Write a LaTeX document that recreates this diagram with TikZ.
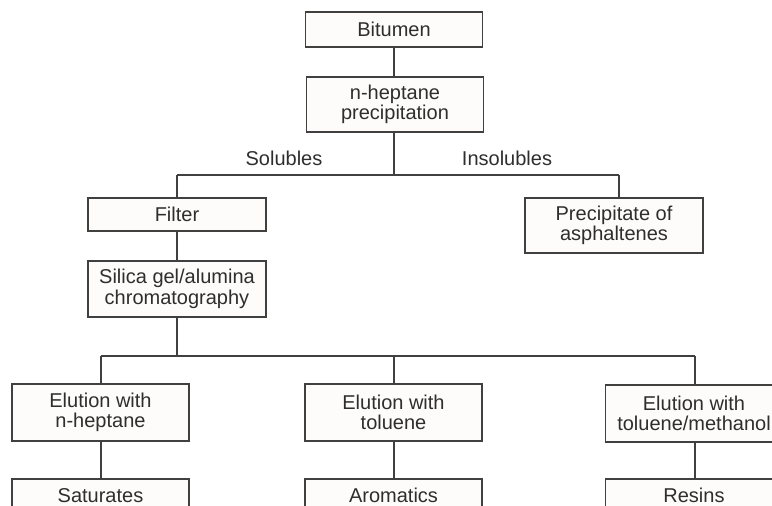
\documentclass[tikz,border=0pt]{standalone}
\usepackage{fontspec}
\setmainfont{Liberation Sans}
\definecolor{ln}{HTML}{404040}
\definecolor{tx}{HTML}{2E2E2E}
\definecolor{bx}{HTML}{FDFCFA}
\begin{document}
\begin{tikzpicture}[x=0.5pt,y=-0.5pt,
  box/.style={draw=ln,line width=0.8pt,fill=bx,text=tx,align=center,
    minimum width=88.5pt,inner sep=0pt,
    font=\fontsize{10}{10.3}\selectfont},
  lbl/.style={text=tx,font=\fontsize{10}{10.3}\selectfont,inner sep=0pt},
  conn/.style={draw=ln,line width=0.8pt}]
\useasboundingbox (0,0) rectangle (772,506);
\clip (0,0) rectangle (772,506);
\fill[white] (0,0) rectangle (772,506);
\node[box,minimum height=17.5pt] (bit) at (394,29.5) {Bitumen};
\node[box,minimum height=27.5pt] (hep) at (395,104.5) {n-heptane\\precipitation};
\node[box,minimum height=16.5pt,minimum width=89pt] (fil) at (177,214.5) {Filter};
\node[box,minimum height=28pt,minimum width=89pt] (sil) at (177,289) {Silica gel/alumina\\chromatography};
\node[box,minimum height=27.5pt,minimum width=89pt] (pre) at (614,225.5) {Precipitate of\\asphaltenes};
\node[box,minimum height=28.5pt] (e1) at (100.5,412.5) {Elution with\\n-heptane};
\node[box,minimum height=28.5pt] (e2) at (393.5,412.5) {Elution with\\toluene};
\node[box,minimum height=28.5pt] (e3) at (694,413.5) {Elution with\\toluene/methanol};
\node[box,minimum height=16.5pt] (sat) at (100.5,495.5) {Saturates};
\node[box,minimum height=16.5pt] (aro) at (393.5,495.5) {Aromatics};
\node[box,minimum height=16.5pt] (res) at (694,495.5) {Resins};
\node[lbl] (sol) at (284,158) {Solubles};
\node[lbl] (ins) at (507,158) {Insolubles};
\coordinate (j1) at (394,175);
\coordinate (j1l) at (177,175);
\coordinate (j1r) at (619,175);
\coordinate (j2) at (177,356);
\coordinate (j2l) at (101,356);
\coordinate (j2m) at (394,356);
\coordinate (j2r) at (695,356);
\draw[conn] (bit.south -| 394,0) -- (hep.north -| 394,0);
\draw[conn] (hep.south -| 394,0) -- (j1);
\draw[conn] (j1l) -- (j1r);
\draw[conn] (j1l) -- (fil.north);
\draw[conn] (j1r) -- (j1r |- pre.north);
\draw[conn] (fil.south) -- (sil.north);
\draw[conn] (sil.south) -- (j2);
\draw[conn] (j2l) -- (j2r);
\draw[conn] (j2l) -- (j2l |- e1.north);
\draw[conn] (j2m) -- (j2m |- e2.north);
\draw[conn] (j2r) -- (j2r |- e3.north);
\draw[conn] (e1.south -| j2l) -- (j2l |- sat.north);
\draw[conn] (e2.south -| j2m) -- (j2m |- aro.north);
\draw[conn] (e3.south -| j2r) -- (j2r |- res.north);
\end{tikzpicture}
\end{document}
